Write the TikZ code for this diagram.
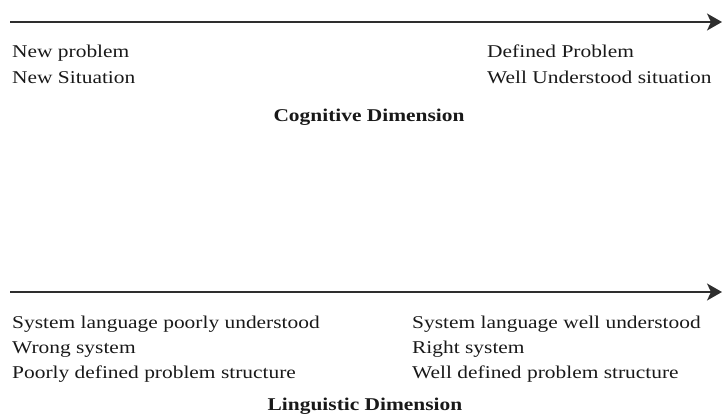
\documentclass[tikz,border=0pt]{standalone}
\usepackage{fontspec}
\setmainfont[FakeStretch=1.19]{Liberation Serif}
\usetikzlibrary{arrows.meta}
\begin{document}
\begin{tikzpicture}[x=1pt, y=-1pt,
  axis/.style={draw=black!82, line width=1.6pt, -{Stealth[length=15pt, width=17pt, inset=4pt]}},
  lbl/.style={anchor=base west, inner sep=0pt, text=black!90, font=\fontsize{18}{24}\selectfont},
  title/.style={anchor=base, inner sep=0pt, text=black!90, font=\fontsize{18}{24}\selectfont\bfseries}]
  \useasboundingbox (0,0) rectangle (723,414);

  % cognitive axis
  \coordinate (cogL) at (10,22);
  \coordinate (cogR) at (722,22);
  \draw[axis] (cogL) -- (cogR);
  \node[lbl] (c1) at (12,58) {New problem};
  \node[lbl] (c2) at (12,84) {New Situation};
  \node[lbl] (c3) at (487,58) {Defined Problem};
  \node[lbl] (c4) at (487,84) {Well Understood situation};
  \node[title] (ctitle) at (369,122) {Cognitive Dimension};

  % linguistic axis
  \coordinate (linL) at (10,292);
  \coordinate (linR) at (722,292);
  \draw[axis] (linL) -- (linR);
  \node[lbl] (l1) at (12,328) {System language poorly understood};
  \node[lbl] (l2) at (12,353) {Wrong system};
  \node[lbl] (l3) at (12,378) {Poorly defined problem structure};
  \node[lbl] (l4) at (412,328) {System language well understood};
  \node[lbl] (l5) at (412,353) {Right system};
  \node[lbl] (l6) at (412,378) {Well defined problem structure};
  \node[title] (ltitle) at (365,410) {Linguistic Dimension};
\end{tikzpicture}
\end{document}
